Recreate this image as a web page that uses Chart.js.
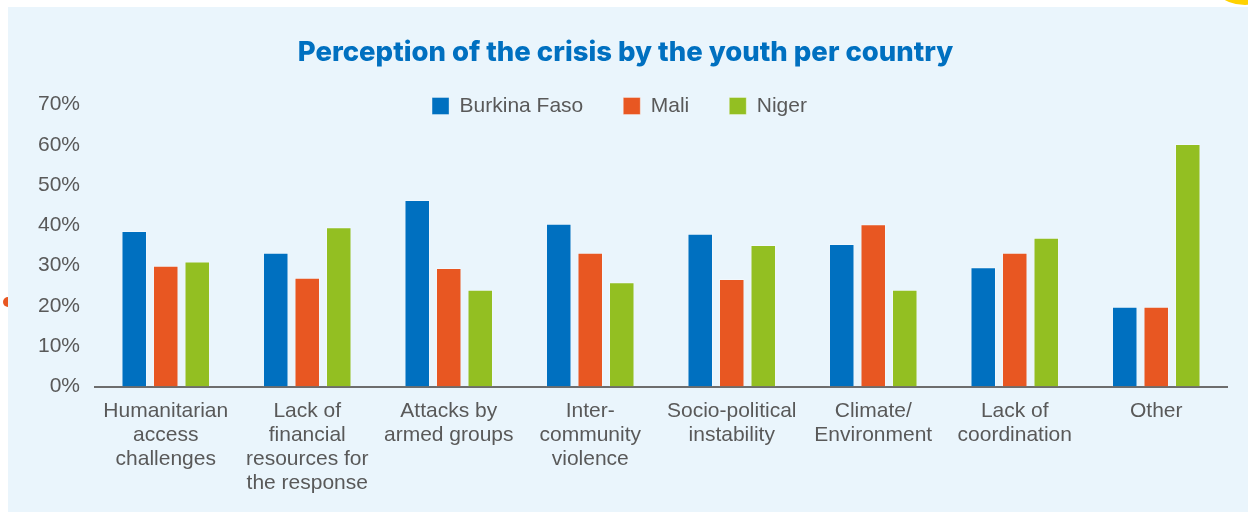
<!DOCTYPE html>
<html>
<head>
<meta charset="utf-8">
<script src="https://cdn.jsdelivr.net/npm/chart.js@4.4.1/dist/chart.umd.min.js"></script>
<style>
  html, body { margin: 0; padding: 0; background: #ffffff; width: 1248px; height: 512px; overflow: hidden; }
  #dot { position: absolute; left: 3px; top: 297px; width: 10px; height: 10px; border-radius: 50%; background: #e85722; }
  #sun { position: absolute; left: 1203px; top: -76px; width: 84px; height: 81px; border-radius: 50%; background: #ffd200; }
  #panel { position: absolute; left: 8px; top: 7px; width: 1240px; height: 505px; background: #eaf5fc; }
  #c { position: absolute; left: 0; top: 0; }
</style>
</head>
<body>
<div id="dot"></div>
<div id="sun"></div>
<div id="panel"></div>
<canvas id="c" width="1248" height="512"></canvas>
<script>
const categories = [
  ['Humanitarian', 'access', 'challenges'],
  ['Lack of', 'financial', 'resources for', 'the response'],
  ['Attacks by', 'armed groups'],
  ['Inter-', 'community', 'violence'],
  ['Socio-political', 'instability'],
  ['Climate/', 'Environment'],
  ['Lack of', 'coordination'],
  ['Other']
];
const burkinaFaso = [38.6, 33.2, 46.3, 40.4, 37.9, 35.4, 29.6, 19.8];
const mali        = [30.0, 27.0, 29.4, 33.2, 26.7, 40.3, 33.2, 19.8];
const niger       = [31.0, 39.5, 24.0, 25.9, 35.1, 24.0, 36.9, 60.2];
const seriesNames = ['Burkina Faso', 'Mali', 'Niger'];
const yTicks = [0, 10, 20, 30, 40, 50, 60, 70];
const titleText = '\u00a0\u00a0Perception of the crisis by the youth per country';

const colors = ['#0070c0', '#e85722', '#93bf22'];
const grey = '#595959';

// Let the legend overlap the top of the plot area (as in the reference)
const legendHeightPlugin = {
  id: 'legendHeight',
  beforeLayout(chart) {
    const lg = chart.legend;
    if (lg && !lg._patched) {
      const orig = lg.fit.bind(lg);
      lg.fit = function () { orig(); this.height = 49; };
      lg._patched = true;
    }
  },
  afterLayout(chart) {
    const lg = chart.legend;
    if (lg) { lg.height = 90; lg.bottom = lg.top + 90; }
  }
};

new Chart(document.getElementById('c'), {
  type: 'bar',
  data: {
    labels: categories,
    datasets: [burkinaFaso, mali, niger].map((d, i) => ({
      label: seriesNames[i],
      data: d,
      backgroundColor: colors[i],
      borderColor: 'rgba(255,255,255,0.35)',
      borderWidth: 1,
      categoryPercentage: 0.668,
      barPercentage: 0.81
    }))
  },
  options: {
    responsive: false,
    animation: false,
    devicePixelRatio: 1,
    layout: { padding: { left: 12, right: 21, top: 0, bottom: 0 } },
    plugins: {
      tooltip: { enabled: false },
      title: {
        display: true,
        text: titleText,
        color: '#0070c0',
        font: { family: 'Inter, "Open Sans", sans-serif', size: 27.5, weight: '800', lineHeight: 1.2 },
        padding: { top: 36, bottom: -13.5 }
      },
      legend: {
        display: true,
        position: 'top',
        labels: {
          color: grey,
          font: { family: '"Liberation Sans", Arial, sans-serif', size: 21 },
          boxWidth: 17,
          boxHeight: 17,
          padding: 40
        }
      }
    },
    scales: {
      x: {
        grid: { display: false, drawTicks: false },
        border: { display: true, color: '#6d6d6d', width: 2 },
        ticks: {
          color: grey,
          font: { family: '"Liberation Sans", Arial, sans-serif', size: 21, lineHeight: '24px' },
          padding: 12.5,
          maxRotation: 0,
          autoSkip: false
        },
        afterFit(s) { s.height = 125.5; }
      },
      y: {
        min: yTicks[0],
        max: yTicks[yTicks.length - 1],
        grid: { display: false, drawTicks: false },
        border: { display: false },
        afterBuildTicks(s) { s.ticks = yTicks.map(v => ({ value: v })); },
        ticks: {
          color: grey,
          font: { family: '"Liberation Sans", Arial, sans-serif', size: 21 },
          padding: 15,
          callback: v => v + '%'
        },
        afterFit(s) { s.width = 83; }
      }
    }
  },
  plugins: [legendHeightPlugin]
});
</script>
</body>
</html>
